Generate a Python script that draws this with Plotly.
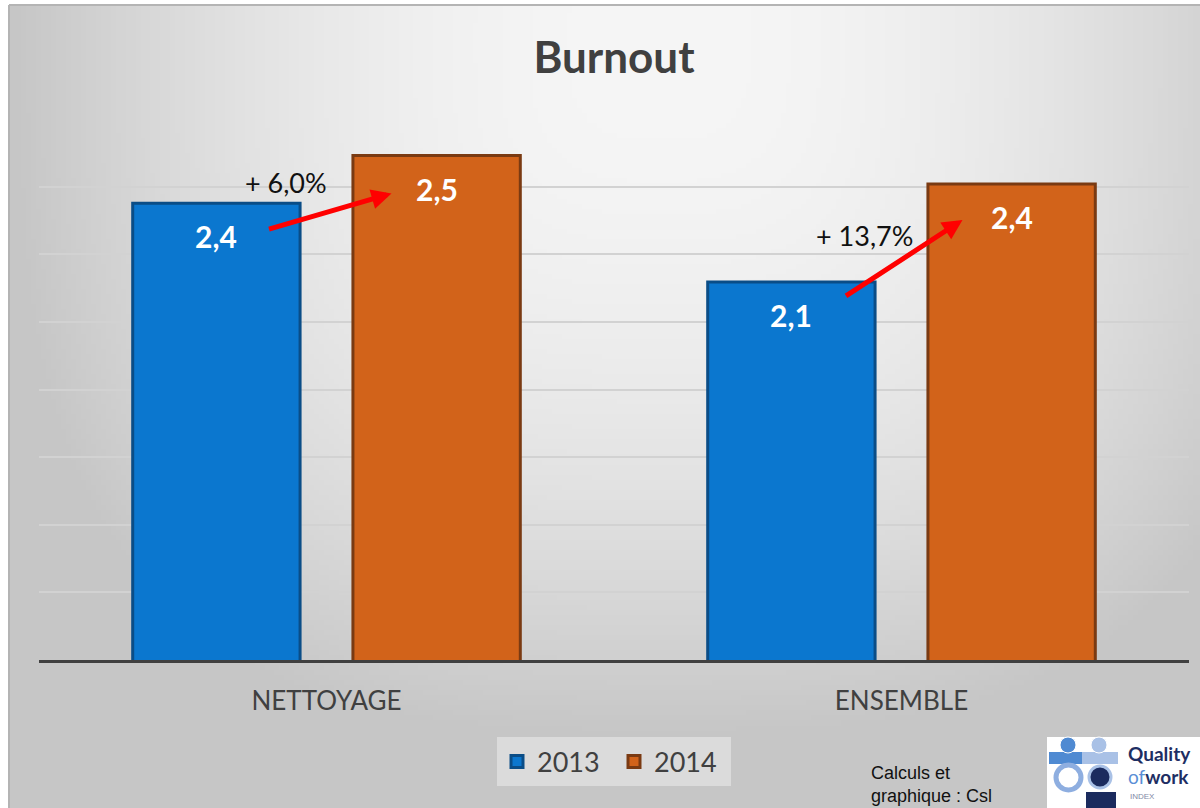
import base64, zlib, struct
import numpy as np
import plotly.graph_objects as go

# ---------------- data ----------------
categories = ["NETTOYAGE", "ENSEMBLE"]
years = ["2013", "2014"]
values_2013 = [2.351, 2.118]
values_2014 = [2.492, 2.408]
change_labels = ["+ 6,0%", "+ 13,7%"]
source_text = "Calculs et<br>graphique : Csl"

# ---------------- geometry helpers (figure layout, pixels) ----------------
W, H = 1200, 808
ML, MR, MT, MB = 39, 11, 119, 148
PW, PH = W - ML - MR, H - MT - MB


def px(xp):
    return (xp - ML) / PW


def py(yp):
    return (H - MB - yp) / PH


# ---------------- background gradient (PNG data URI) ----------------
def gradient_uri():
    gw, gh = 240, 160
    xs = np.linspace(9, 1200, gw)
    ys = np.linspace(5, 808, gh)
    X, Y = np.meshgrid(xs, ys)
    dx = np.abs(X - 660) / 650
    dy = np.abs(Y - 40) / 700
    d = (dx ** 3 + dy ** 3) ** (1 / 3)
    v = 246 - 48 * d ** 2
    v = np.clip(v, 198, 247)
    arr = np.stack([v, v, v], axis=-1).astype(np.uint8)
    raw = b"".join(b"\x00" + arr[r].tobytes() for r in range(gh))

    def chunk(t, dd):
        return struct.pack(">I", len(dd)) + t + dd + struct.pack(">I", zlib.crc32(t + dd) & 0xFFFFFFFF)

    png = (b"\x89PNG\r\n\x1a\n"
           + chunk(b"IHDR", struct.pack(">IIBBBBB", gw, gh, 8, 2, 0, 0, 0))
           + chunk(b"IDAT", zlib.compress(raw))
           + chunk(b"IEND", b""))
    return "data:image/png;base64," + base64.b64encode(png).decode()


FONT = "Lato"
blue, blue_edge = "#0b77cf", "#0a4d87"
orange, orange_edge = "#d2631a", "#7a3a12"

fig = go.Figure()
fig.add_trace(go.Bar(x=categories, y=values_2013, name=years[0],
                     marker=dict(color=blue, line=dict(color=blue_edge, width=3))))
fig.add_trace(go.Bar(x=categories, y=values_2014, name=years[1],
                     marker=dict(color=orange, line=dict(color=orange_edge, width=3))))

bargap, bargroupgap = 0.234, 0.24
slot_px = PW / len(categories) * (1 - bargap) / 2
half = slot_px / 2


def fmt(v):
    return f"{v:.1f}".replace(".", ",")


annotations = []
for i, cat in enumerate(categories):
    for vals, sh in ((values_2013, -half), (values_2014, half)):
        annotations.append(dict(x=cat, y=vals[i], xref="x", yref="y", xshift=sh, yshift=-33,
                                text="<b>" + fmt(vals[i]) + "</b>", showarrow=False,
                                font=dict(family=FONT, size=30, color="white")))

# change labels and arrows
pct_shift = [(-41, 21), (-37, 46)]
arrow_geo = [(65, -38, -124, 36), (61, -36, -118, 77)]
for i, cat in enumerate(categories):
    annotations.append(dict(x=cat, y=values_2013[i], xref="x", yref="y",
                            xshift=pct_shift[i][0], yshift=pct_shift[i][1],
                            text=change_labels[i], showarrow=False,
                            font=dict(family=FONT, size=27, color="#111111")))
    xs_, ys_, ax_, ay_ = arrow_geo[i]
    annotations.append(dict(x=cat, y=values_2014[i], xref="x", yref="y",
                            xshift=xs_, yshift=ys_, ax=ax_, ay=ay_, text="",
                            showarrow=True, arrowhead=2, arrowsize=0.8, arrowwidth=5,
                            arrowcolor="#ff0000", standoff=0))

# source text
annotations.append(dict(x=px(869), y=py(784), xref="paper", yref="paper", xanchor="left",
                        yanchor="middle", align="left", text=source_text, showarrow=False,
                        font=dict(family="Liberation Sans", size=18, color="#111111")))

# logo text
annotations.append(dict(x=px(1126), y=py(753), xref="paper", yref="paper", xanchor="left",
                        yanchor="middle", text="<b>Quality</b>", showarrow=False,
                        font=dict(family=FONT, size=19, color="#1e2e63")))
annotations.append(dict(x=px(1126), y=py(776), xref="paper", yref="paper", xanchor="left",
                        yanchor="middle", text="<span style='color:#5b8fd6'>of</span><b>work</b>",
                        showarrow=False, font=dict(family=FONT, size=19, color="#1e2e63")))
annotations.append(dict(x=px(1128), y=py(797), xref="paper", yref="paper", xanchor="left",
                        yanchor="middle", text="INDEX", showarrow=False,
                        font=dict(family="Liberation Sans", size=8, color="#7f8aa6")))

shapes = [
    # chart border
    dict(type="line", xref="paper", yref="paper", x0=px(9), x1=px(1200), y0=py(5), y1=py(5),
         line=dict(color="#b4b4b4", width=2)),
    dict(type="line", xref="paper", yref="paper", x0=px(9), x1=px(9), y0=py(5), y1=py(808),
         line=dict(color="#b4b4b4", width=2)),
    # logo
    dict(type="rect", xref="paper", yref="paper", x0=px(1047), x1=px(1201), y0=py(737), y1=py(809),
         fillcolor="white", line=dict(width=0)),
    dict(type="rect", xref="paper", yref="paper", x0=px(1049), x1=px(1088), y0=py(752), y1=py(764),
         fillcolor="#4f8ad2", line=dict(width=0)),
    dict(type="rect", xref="paper", yref="paper", x0=px(1082), x1=px(1118), y0=py(752), y1=py(764),
         fillcolor="#a9c1e6", line=dict(width=0)),
    dict(type="circle", xref="paper", yref="paper", x0=px(1060), x1=px(1076), y0=py(737), y1=py(753),
         fillcolor="#4f8ad2", line=dict(color="white", width=1)),
    dict(type="circle", xref="paper", yref="paper", x0=px(1091), x1=px(1107), y0=py(737), y1=py(753),
         fillcolor="#a9c1e6", line=dict(color="white", width=1)),
    dict(type="circle", xref="paper", yref="paper", x0=px(1056), x1=px(1081), y0=py(765), y1=py(790),
         fillcolor="white", line=dict(color="#8eaee0", width=5)),
    dict(type="rect", xref="paper", yref="paper", x0=px(1086), x1=px(1116), y0=py(792), y1=py(809),
         fillcolor="#1b2b5e", line=dict(width=0)),
    dict(type="circle", xref="paper", yref="paper", x0=px(1089), x1=px(1111), y0=py(766), y1=py(788),
         fillcolor="#1b2b5e", line=dict(color="#a9c1e6", width=3)),
]

fig.update_layout(
    width=W, height=H,
    margin=dict(l=ML, r=MR, t=MT, b=MB, pad=0),
    paper_bgcolor="white", plot_bgcolor="rgba(0,0,0,0)",
    barmode="group", bargap=bargap, bargroupgap=bargroupgap,
    separators=",.",
    title=dict(text="<b>Burnout</b>", x=0.5, xref="paper", xanchor="center",
               y=1 - 58 / H, yref="container", yanchor="middle",
               font=dict(family=FONT, size=44, color="#404040")),
    xaxis=dict(type="category", showline=True, linecolor="#404040", linewidth=3,
               showgrid=False, ticks="", ticklabelstandoff=16,
               tickfont=dict(family=FONT, size=26, color="#404040")),
    yaxis=dict(range=[1.0, 2.6], tick0=1.0, dtick=0.2, showticklabels=False,
               showgrid=True, gridcolor="#d2d2d2", gridwidth=1.5, zeroline=False,
               showline=False),
    legend=dict(orientation="h", x=0.5, xanchor="center", y=-0.143, yanchor="top",
                bgcolor="rgba(236,236,236,0.55)", borderwidth=0,
                font=dict(family=FONT, size=27, color="#404040"), itemwidth=30,
                entrywidth=72),
    showlegend=True,
    annotations=annotations,
    shapes=shapes,
)

fig.add_layout_image(dict(source=gradient_uri(), xref="paper", yref="paper",
                          x=px(9), y=py(5), sizex=(1200 - 9) / PW, sizey=(808 - 5) / PH,
                          xanchor="left", yanchor="top", sizing="stretch", layer="below"))

fig.write_html("out.html", config={"displayModeBar": False},
               post_script="document.body.style.margin='0';document.body.style.overflow='hidden';")
